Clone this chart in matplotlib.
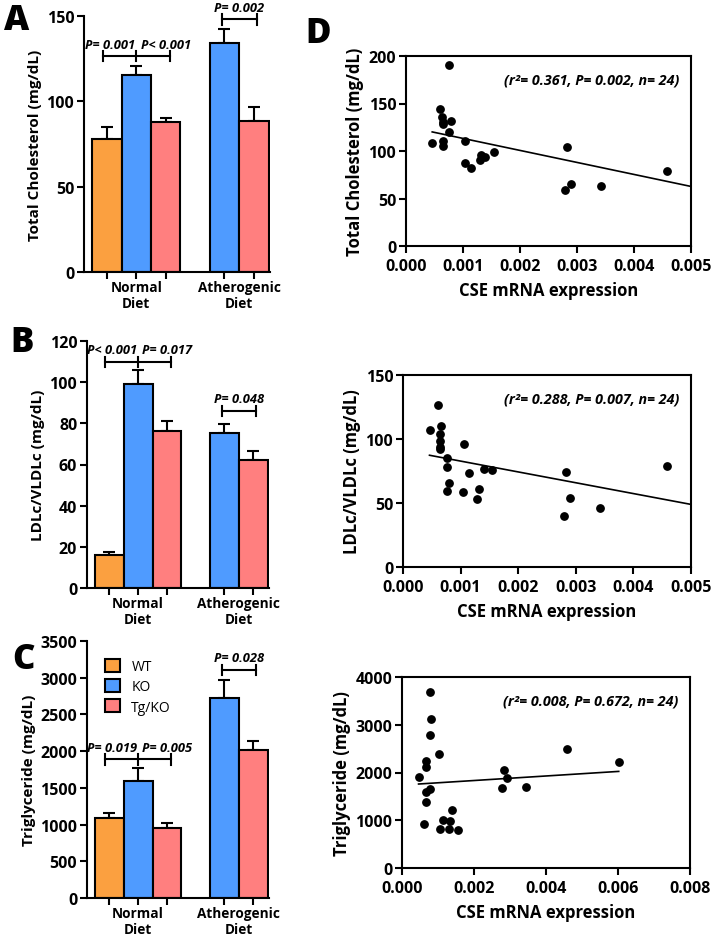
import numpy as np
import matplotlib
matplotlib.use("Agg")
import matplotlib.pyplot as plt
from matplotlib.patches import Patch

plt.rcParams['font.family'] = ['Open Sans', 'DejaVu Sans']
plt.rcParams['font.weight'] = 'bold'

W, H = 712, 937

# bar panels (A, B, C): WT, KO, Tg/KO on normal diet, KO, Tg/KO on atherogenic diet
bar_pos = [0, 1, 2, 4, 5]
groups = ["Normal\nDiet", "Atherogenic\nDiet"]
group_pos = [1, 4.5]
legend_names = ["WT", "KO", "Tg/KO"]

chol_mean = [77.7, 115.2, 87.7, 134.2, 88.3]
chol_sem = [7.4, 5.5, 2.5, 8.2, 8.4]
ldl_mean = [15.8, 98.9, 76.1, 75.3, 62.2]
ldl_sem = [1.6, 6.9, 4.8, 4.3, 4.4]
tg_mean = [1093, 1597, 953, 2724, 2010]
tg_sem = [64, 168, 63, 245, 128]

# significance brackets: (x left, x mid or None, x right, y, labels with x)
chol_sig = [(-0.15, 1, 2.15, 126.4, [("P= 0.001", 0.1), ("P< 0.001", 2.02)]),
            (3.9, None, 5.1, 148, [("P= 0.002", 4.5)])]
ldl_sig = [(-0.15, 1, 2.15, 110, [("P< 0.001", 0.1), ("P= 0.017", 2.02)]),
           (3.9, None, 5.1, 86.1, [("P= 0.048", 4.5)])]
tg_sig = [(-0.15, 1, 2.15, 1888, [("P= 0.019", 0.1), ("P= 0.005", 2.02)]),
          (3.9, None, 5.1, 3109, [("P= 0.028", 4.5)])]

# scatter panels (D): CSE mRNA expression vs lipid levels
chol_x = [0.00046, 0.000602, 0.000626, 0.000643, 0.000643, 0.000643, 0.000643, 0.00076,
          0.00076, 0.00079, 0.00103, 0.00104, 0.00114, 0.00129, 0.00131, 0.00138,
          0.00154, 0.00282, 0.00279, 0.00289, 0.00342, 0.00458]
chol_y = [108.6, 144, 135.9, 131, 128.5, 110.3, 105, 190.5,
          120.5, 132, 110.7, 86.9, 82, 90.4, 95.3, 93.2,
          98.8, 104, 59.2, 64.8, 62.7, 78.8]
ldl_x = [0.00047, 0.000615, 0.000655, 0.00065, 0.000638, 0.00065, 0.00065, 0.00077,
         0.00077, 0.000795, 0.00077, 0.00106, 0.00104, 0.00115, 0.00132, 0.00129,
         0.0014, 0.00155, 0.00283, 0.00279, 0.0029, 0.00342, 0.00459]
ldl_y = [106.8, 126.3, 110, 103.7, 98.5, 94.1, 92, 85.3,
         78.5, 66, 59.3, 96.2, 58.7, 73.6, 61.1, 53.5,
         76.7, 75.4, 74.3, 39.8, 54.1, 46, 79]
tg_x = [0.000463, 0.000778, 0.000806, 0.000778, 0.000657, 0.000657, 0.000657, 0.000778,
        0.000657, 0.00062, 0.00104, 0.001055, 0.00115, 0.0013, 0.00133, 0.0014,
        0.00156, 0.00282, 0.00279, 0.00291, 0.00344, 0.00458, 0.00602]
tg_y = [1899, 3686, 3127, 2792, 2248, 2108, 1592, 1654,
        1375, 914, 2380, 810, 1012, 817, 984, 1208,
        796, 2052, 1682, 1878, 1689, 2499, 2220]

# regression lines (intercept, slope) and stats text
chol_fit = (125.9, -12643)
ldl_fit = (91.2, -8460)
tg_fit = (1737, 47517)
fit_range = (0.00046, 0.00602)
chol_stat = "(r²= 0.361, P= 0.002, n= 24)"
ldl_stat = "(r²= 0.288, P= 0.007, n= 24)"
tg_stat = "(r²= 0.008, P= 0.672, n= 24)"

c_wt, c_ko, c_tg = "#FBA040", "#4F9BFF", "#FF7F7F"
bar_colors = [c_wt, c_ko, c_tg, c_ko, c_tg]


def px_axes(fig, left, top, right, bottom):
    return fig.add_axes([left / W, 1 - bottom / H, (right - left) / W, (bottom - top) / H])


def bar_panel(ax, means, sems, ymax, yticks, ylabel, sig):
    ax.bar(bar_pos, means, width=1.0, color=bar_colors, edgecolor="black", linewidth=1.5, zorder=2)
    ax.errorbar(bar_pos, means, yerr=[np.zeros(len(sems)), sems], fmt="none", ecolor="black",
                elinewidth=1.5, capsize=4.5, capthick=1.5, zorder=1)
    ax.set_xlim(-0.78, 5.55)
    ax.set_ylim(0, ymax)
    ax.set_yticks(yticks)
    ax.xaxis.remove_overlapping_locs = False
    ax.set_xticks(bar_pos, [""] * len(bar_pos))
    ax.set_xticks(group_pos, groups, minor=True)
    ax.tick_params(axis="x", which="minor", length=0, pad=6)
    ax.tick_params(axis="both", which="major", width=1.5, length=5)
    ax.tick_params(axis="y", pad=2)
    for lab in ax.get_xticklabels(minor=True):
        lab.set_fontweight("bold")
        lab.set_fontsize(9.8)
        lab.set_linespacing(1.15)
    for lab in ax.get_yticklabels():
        lab.set_fontweight("bold")
        lab.set_fontsize(11.5)
    ax.spines[["top", "right"]].set_visible(False)
    ax.spines[["left", "bottom"]].set_linewidth(1.5)
    ax.set_ylabel(ylabel, fontsize=11, fontweight="bold", labelpad=3)
    th = 0.02 * ymax
    for x0, xm, x1, y, labels in sig:
        ax.plot([x0, x1], [y, y], color="black", lw=1.5, clip_on=False)
        for xx in [x0, x1] + ([xm] if xm is not None else []):
            ax.plot([xx, xx], [y - th, y + th], color="black", lw=1.5, clip_on=False)
        for txt, xt in labels:
            ax.annotate(txt, (xt, y), xytext=(0, 4), textcoords="offset points", ha="center",
                        va="bottom", fontsize=9.3, fontweight="bold", fontstyle="italic",
                        annotation_clip=False)


def scatter_panel(ax, x, y, fit, xmax, xticks, ymax, yticks, ylabel, stat):
    ax.scatter(x, y, s=28, color="black", zorder=3, clip_on=True)
    xs = np.array(fit_range)
    ax.plot(xs, fit[0] + fit[1] * xs, color="black", lw=1.2)
    ax.set_xlim(0, xmax)
    ax.set_ylim(0, ymax)
    ax.set_xticks(xticks, [f"{v:.3f}" for v in xticks])
    ax.set_yticks(yticks)
    ax.tick_params(axis="both", width=1.5, length=5, labelsize=11.5)
    ax.tick_params(axis="y", pad=2)
    for lab in ax.get_xticklabels() + ax.get_yticklabels():
        lab.set_fontweight("bold")
    for sp in ax.spines.values():
        sp.set_linewidth(1.5)
    ax.set_ylabel(ylabel, fontsize=12, fontweight="bold", labelpad=3)
    ax.set_xlabel("CSE mRNA expression", fontsize=12, fontweight="bold", labelpad=5)
    ax.text(0.96, 0.875, stat, transform=ax.transAxes, ha="right", va="center",
            fontsize=10.3, fontweight="bold", fontstyle="italic")


fig = plt.figure(figsize=(W / 100, H / 100), dpi=100)

axA = px_axes(fig, 84, 17, 270, 273)
bar_panel(axA, chol_mean, chol_sem, 150, [0, 50, 100, 150], "Total Cholesterol (mg/dL)", chol_sig)
axB = px_axes(fig, 87, 342, 269, 589)
bar_panel(axB, ldl_mean, ldl_sem, 120, [0, 20, 40, 60, 80, 100, 120], "LDLc/VLDLc (mg/dL)", ldl_sig)
axC = px_axes(fig, 87, 642, 269, 899)
bar_panel(axC, tg_mean, tg_sem, 3500, list(range(0, 3501, 500)), "Triglyceride (mg/dL)", tg_sig)
axC.legend(handles=[Patch(facecolor=c, edgecolor="black", linewidth=1.5) for c in [c_wt, c_ko, c_tg]],
           labels=legend_names, loc="upper left", bbox_to_anchor=(0.03, 0.98), frameon=False,
           handlelength=1.1, handleheight=1.1, labelspacing=0.35,
           prop={"weight": "normal", "size": 10})

axD1 = px_axes(fig, 406, 57, 691, 247)
scatter_panel(axD1, chol_x, chol_y, chol_fit, 0.005, [0, 0.001, 0.002, 0.003, 0.004, 0.005],
              200, [0, 50, 100, 150, 200], "Total Cholesterol (mg/dL)", chol_stat)
axD2 = px_axes(fig, 403, 376, 691, 568)
scatter_panel(axD2, ldl_x, ldl_y, ldl_fit, 0.005, [0, 0.001, 0.002, 0.003, 0.004, 0.005],
              150, [0, 50, 100, 150], "LDLc/VLDLc (mg/dL)", ldl_stat)
axD3 = px_axes(fig, 402, 678, 690, 869)
scatter_panel(axD3, tg_x, tg_y, tg_fit, 0.008, [0, 0.002, 0.004, 0.006, 0.008],
              4000, [0, 1000, 2000, 3000, 4000], "Triglyceride (mg/dL)", tg_stat)

for letter, (lx, ly) in zip("ABCD", [(17, 21), (22, 343), (24, 660), (318, 34)]):
    fig.text(lx / W, 1 - ly / H, letter, fontsize=25, fontweight="heavy", ha="center", va="center")

fig.savefig("out.png", dpi=100)
